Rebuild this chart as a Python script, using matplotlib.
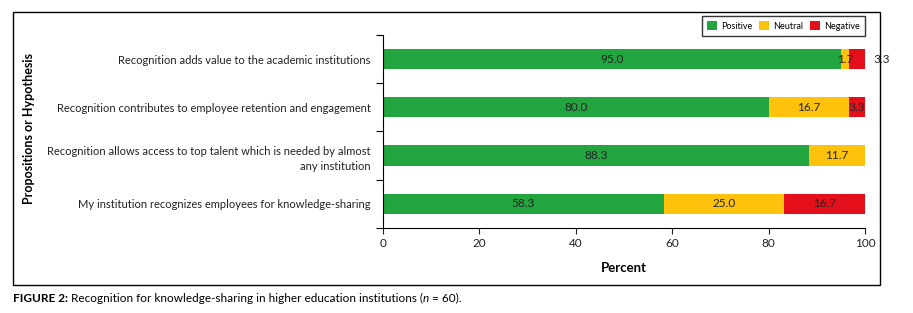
import numpy as np
import matplotlib
matplotlib.use("Agg")
import matplotlib.pyplot as plt
from matplotlib.patches import Rectangle

plt.rcParams['font.family'] = ['Lato', 'DejaVu Sans']

# Data (bottom to top)
propositions = ["My institution recognizes employees for knowledge-sharing",
                "Recognition allows access to top talent which is needed by almost\nany institution",
                "Recognition contributes to employee retention and engagement",
                "Recognition adds value to the academic institutions"]
positive = [58.3, 88.3, 80.0, 95.0]
neutral = [25.0, 11.7, 16.7, 1.7]
negative = [16.7, 0.0, 3.3, 3.3]
series_names = ["Positive", "Neutral", "Negative"]
colours = ["#22a43f", "#fec20c", "#e3101b"]

fig = plt.figure(figsize=(9.13, 3.13), dpi=100)
ax = fig.add_axes([0.4195, 0.2716, 0.5279, 0.6166])

y = np.arange(len(propositions))
barHeight = 0.42
left = np.zeros(len(propositions))
allValues = [positive, neutral, negative]

for i in range(0, 3):
    vals = np.array(allValues[i])
    ax.barh(y, vals, left=left, height=barHeight, color=colours[i],
            label=series_names[i], edgecolor='none')
    for j in range(0, len(y)):
        if vals[j] <= 0:
            continue
        if i == 2 and j == 3:
            # small value written outside the bar
            ax.text(101.8, y[j], "%.1f" % vals[j], ha='left', va='center',
                    fontsize=8.5, color='#222222', clip_on=False)
        else:
            ax.text(left[j] + vals[j] / 2, y[j], "%.1f" % vals[j], ha='center',
                    va='center', fontsize=8.5, color='#222222')
    left = left + vals

ax.set_xlim(0, 100)
ax.set_ylim(-0.5, 3.5)
ax.set_xticks([0, 20, 40, 60, 80, 100])
ax.tick_params(axis='x', labelsize=8.5, length=4, width=0.8, colors='#222222')

ax.set_yticks(y)
ax.set_yticklabels(propositions, fontsize=8, color='#222222', ha='right')
ax.tick_params(axis='y', length=0, pad=9)
ax.set_yticks(np.arange(-0.5, 4.0, 1.0), minor=True)
ax.tick_params(axis='y', which='minor', length=5, width=0.8)

for label in ax.get_yticklabels():
    label.set_multialignment('right')
    label.set_linespacing(1.45)

ax.spines['top'].set_visible(False)
ax.spines['right'].set_visible(False)
ax.spines['left'].set_linewidth(0.8)
ax.spines['bottom'].set_linewidth(0.8)

ax.set_xlabel("Percent", fontsize=9.5, fontweight='bold', labelpad=9)
fig.text(0.032, 0.588, "Propositions or Hypothesis", rotation=90, fontsize=9,
         fontweight='bold', ha='center', va='center')

leg = ax.legend(loc='upper right', bbox_to_anchor=(1.0, 1.10), ncol=3, fontsize=6.5,
                frameon=True, fancybox=False, edgecolor='black', handlelength=1.1,
                handleheight=1.3, columnspacing=0.7, handletextpad=0.5,
                borderpad=0.55, borderaxespad=0)
leg.get_frame().set_linewidth(1.0)

# outer frame around the chart
fig.patches.append(Rectangle((13 / 913, 28 / 313), 867 / 913, 273 / 313, fill=False,
                             edgecolor='black', linewidth=1.0, transform=fig.transFigure))

# caption, written piece by piece
captionParts = [("FIGURE 2:", 'bold', 'normal'),
                (" Recognition for knowledge-sharing in higher education institutions (", 'normal', 'normal'),
                ("n", 'normal', 'italic'),
                (" = 60).", 'normal', 'normal')]
renderer = fig.canvas.get_renderer()
xPos = 13 / 913
for text, weight, style in captionParts:
    t = fig.text(xPos, 15 / 313, text, fontsize=8.5, fontweight=weight, fontstyle=style,
                 ha='left', va='center')
    bb = t.get_window_extent(renderer=renderer)
    xPos = xPos + bb.width / fig.bbox.width

plt.savefig("out.png", dpi=100)
